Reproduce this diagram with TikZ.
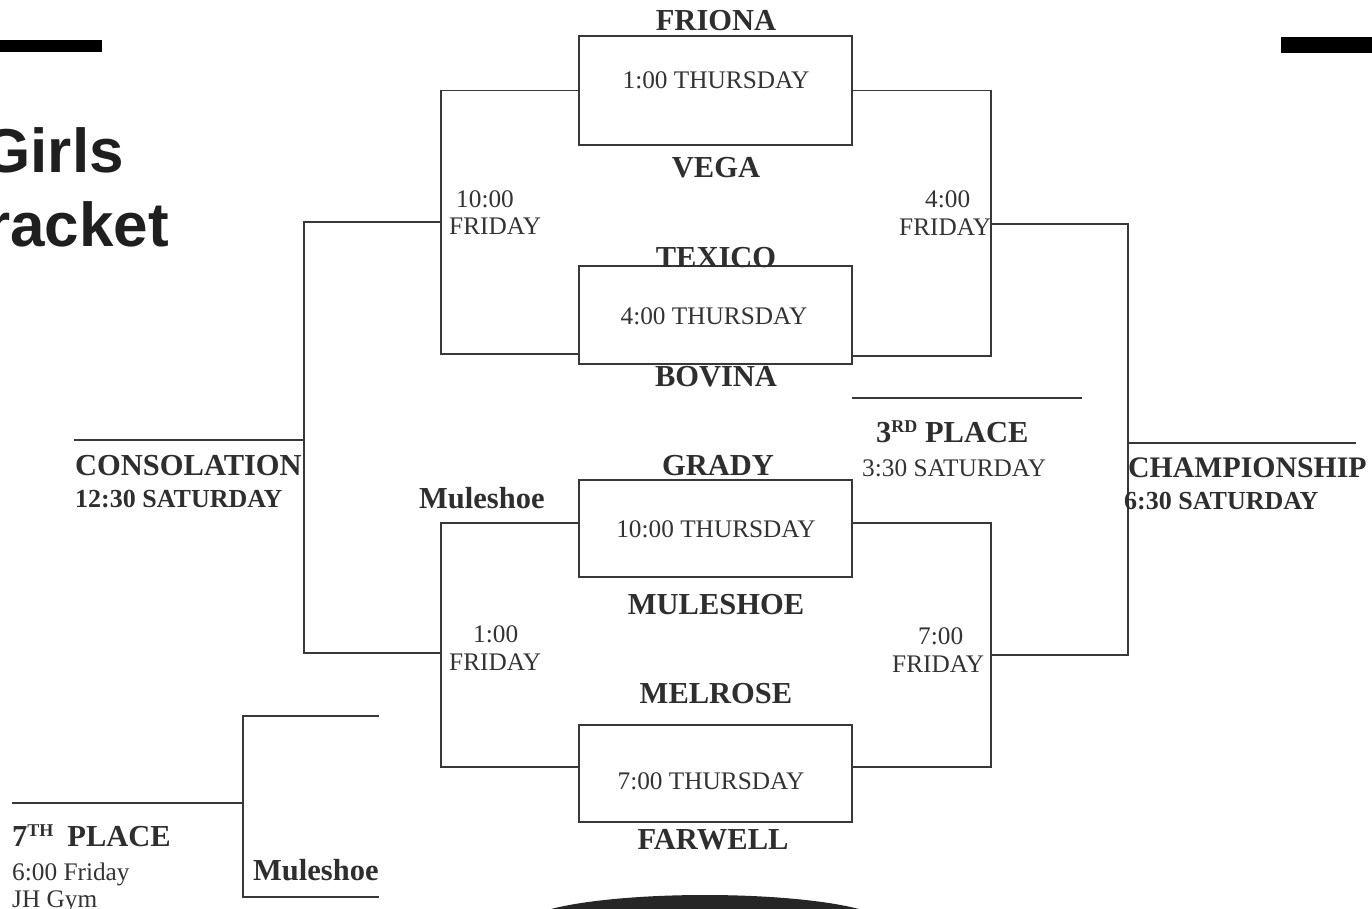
\documentclass[tikz,border=0pt]{standalone}
\usepackage{fontspec}
\setmainfont{Liberation Serif}
\newfontfamily\arialf{Liberation Sans}
\begin{document}
\begin{tikzpicture}[x=1pt,y=-1pt,
  ln/.style={line width=1.4pt, draw=black!78},
  game/.style={ln, rectangle, minimum width=273pt, inner sep=0pt},
  tm/.style={inner sep=0pt, text=black!80, font=\fontsize{25.3}{29}\selectfont},
  tb/.style={inner sep=0pt, text=black!82, font=\bfseries\fontsize{30.5}{35}\selectfont},
  tbs/.style={inner sep=0pt, text=black!82, font=\bfseries\fontsize{26}{30}\selectfont},
  ttl/.style={inner sep=0pt, text=black!88, font=\arialf\bfseries\fontsize{62}{70}\selectfont},
  bar/.style={fill=black, draw=none}
]
\useasboundingbox (0,0) rectangle (1372,908);
\fill[white] (0,0) rectangle (1372,908);

% top bars and bottom shadow
\fill[bar] (0,40) rectangle (102,52);
\fill[bar] (1281,37) rectangle (1372,53);
\fill[black!85] (705,925) ellipse [x radius=182pt, y radius=30pt];

% title
\node[ttl, anchor=base east] (girls) at (124,172) {Girls};
\node[ttl, anchor=base east] (racket) at (169,246) {racket};

% game boxes
\node[game, minimum height=109pt] (b1) at (715.5,90.5) {};
\node[game, minimum height=98pt]  (b2) at (715.5,315) {};
\node[game, minimum height=97pt]  (b3) at (715.5,528.5) {};
\node[game, minimum height=97pt]  (b4) at (715.5,773.5) {};

% bracket corners
\coordinate (aT) at (441,90.5);  \coordinate (aB) at (441,354);
\coordinate (bT) at (991,90.5);  \coordinate (bB) at (991,356);
\coordinate (aM) at (441,222);   \coordinate (bM) at (991,224);
\coordinate (cT) at (441,523);   \coordinate (cB) at (441,767);
\coordinate (dT) at (991,523);   \coordinate (dB) at (991,767);
\coordinate (cM) at (441,653);   \coordinate (dM) at (991,655);
\coordinate (lT) at (304,222);   \coordinate (lB) at (304,653);
\coordinate (rT) at (1128,224);  \coordinate (rB) at (1128,655);
\coordinate (cons) at (304,440); \coordinate (consE) at (74,440);
\coordinate (champ) at (1128,443); \coordinate (champE) at (1356,443);
\coordinate (thirdW) at (852,398); \coordinate (thirdE) at (1082,398);
\coordinate (sT) at (243,716);   \coordinate (sTE) at (379,716);
\coordinate (sB) at (243,897);   \coordinate (sBE) at (379,897);
\coordinate (sM) at (243,803);   \coordinate (sME) at (12,803);

% connectors
\draw[ln] (b1.west) -- (aT) -- (aB) -- (aB -| b2.west);
\draw[ln] (b1.east) -- (bT) -- (bB) -- (bB -| b2.east);
\draw[ln] (b3.west |- cT) -- (cT) -- (cB) -- (cB -| b4.west);
\draw[ln] (b3.east |- dT) -- (dT) -- (dB) -- (dB -| b4.east);
\draw[ln] (aM) -- (lT) -- (lB) -- (cM);
\draw[ln] (bM) -- (rT) -- (rB) -- (dM);
\draw[ln] (consE) -- (cons);
\draw[ln] (champ) -- (champE);
\draw[ln] (thirdW) -- (thirdE);
\draw[ln] (sTE) -- (sT) -- (sB) -- (sBE);
\draw[ln] (sME) -- (sM);

% team names and game times
\node[tb, anchor=base] (friona) at (716,30) {FRIONA};
\node[tm, anchor=base] (g1) at (716,88) {1:00 THURSDAY};
\node[tb, anchor=base] (vega) at (716,177) {VEGA};
\node[tb, anchor=base] (texico) at (716,267) {TEXICO};
\node[tm, anchor=base] (g2) at (714,324) {4:00 THURSDAY};
\node[tb, anchor=base] (bovina) at (716,386) {BOVINA};
\node[tb, anchor=base] (grady) at (718,475) {GRADY};
\node[tm, anchor=base] (g3) at (716,537) {10:00 THURSDAY};
\node[tb, anchor=base] (muleshoe) at (716,614) {MULESHOE};
\node[tb, anchor=base] (melrose) at (716,703) {MELROSE};
\node[tm, anchor=base] (g4) at (711,789) {7:00 THURSDAY};
\node[tb, anchor=base] (farwell) at (713,849) {FARWELL};

% friday games
\node[tm, anchor=base west] (f1a) at (456,207) {10:00};
\node[tm, anchor=base west] (f1b) at (449,234) {FRIDAY};
\node[tm, anchor=base west] (f2a) at (925,207) {4:00};
\node[tm, anchor=base west] (f2b) at (899,235) {FRIDAY};
\node[tm, anchor=base west] (f3a) at (473,642) {1:00};
\node[tm, anchor=base west] (f3b) at (449,670) {FRIDAY};
\node[tm, anchor=base west] (f4a) at (918,644) {7:00};
\node[tm, anchor=base west] (f4b) at (892,672) {FRIDAY};
\node[tb, anchor=base west] (mule1) at (419,508) {Muleshoe};

% saturday games
\node[tb, anchor=base west] (third) at (876,442) {3\raisebox{10pt}{\fontsize{18}{18}\selectfont RD} PLACE};
\node[tm, anchor=base west] (thirdt) at (862,476) {3:30 SATURDAY};
\node[tb, anchor=base west] (consl) at (75,475) {CONSOLATION};
\node[tbs, anchor=base west] (const) at (75,507) {12:30 SATURDAY};
\node[tb, anchor=base west, font=\bfseries\fontsize{29.8}{34}\selectfont] (champl) at (1128,477) {CHAMPIONSHIP};
\node[tbs, anchor=base west] (champt) at (1124,509) {6:30 SATURDAY};

% 7th place
\node[tb, anchor=base west] (seventh) at (12,846) {7\raisebox{10pt}{\fontsize{18}{18}\selectfont TH}\hspace{14pt}PLACE};
\node[tm, anchor=base west] (sevt) at (12,880) {6:00 Friday};
\node[tm, anchor=base west] (sevg) at (12,907) {JH Gym};
\node[tb, anchor=base west] (mule2) at (253,880) {Muleshoe};
\end{tikzpicture}
\end{document}
